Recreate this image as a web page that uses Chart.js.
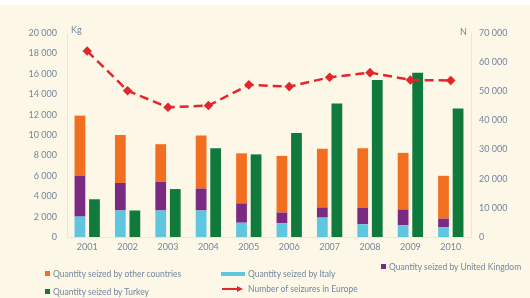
<!DOCTYPE html>
<html>
<head>
<meta charset="utf-8">
<script src="https://cdn.jsdelivr.net/npm/chart.js@4"></script>
<style>
  html, body { margin: 0; padding: 0; background: #fff; }
  #wrap { position: relative; width: 530px; height: 298px; overflow: hidden; }
  #bg { position: absolute; left: 0; top: 5px; width: 530px; height: 293px; background: #fcf7e7; }
  canvas { position: absolute; left: 0; top: 0; }
  .t { position: absolute; font-family: Lato, sans-serif; font-size: 8.5px; color: #74879e; white-space: nowrap; line-height: 10px; }
  .sq { position: absolute; width: 5px; height: 5px; }
</style>
</head>
<body>
<div id="wrap">
  <div id="bg"></div>
  <canvas id="chart" width="530" height="298"></canvas>
  <span class="t" style="left:71px;top:25px;font-size:9px;">Kg</span>
  <span class="t" style="left:460px;top:27px;font-size:9px;">N</span>

  <div class="sq" style="left:45px;top:271px;background:#f26f21;"></div>
  <span class="t" style="left:53px;top:269px;">Quantity seized by other countries</span>
  <div class="sq" style="left:45px;top:289px;background:#107a3d;"></div>
  <span class="t" style="left:53px;top:287px;">Quantity seized by Turkey</span>

  <div class="sq" style="left:221px;top:272px;width:24px;height:4px;background:#5ec7df;"></div>
  <span class="t" style="left:248px;top:269px;">Quantity seized by Italy</span>
  <div class="sq" style="left:222px;top:288px;width:16px;height:2px;background:#e3262b;"></div>
  <div class="sq" style="left:237px;top:286px;width:0;height:0;border-left:6px solid #e3262b;border-top:3px solid transparent;border-bottom:3px solid transparent;background:none;"></div>
  <span class="t" style="left:248px;top:284px;">Number of seizures in Europe</span>

  <div class="sq" style="left:381px;top:264px;background:#7b2a82;"></div>
  <span class="t" style="left:389px;top:262px;">Quantity seized by United Kingdom</span>
</div>
<script>
// Heroin seizures in Europe, 2001-2010
var years = ['2001','2002','2003','2004','2005','2006','2007','2008','2009','2010'];
// kg
var italy  = [2000, 2600, 2600, 2600, 1400, 1350, 1900, 1250, 1150, 950];
var uk     = [4000, 2700, 2800, 2150, 1900, 1050, 1000, 1600, 1550, 850];
var others = [5900, 4700, 3700, 5200, 4900, 5550, 5750, 5850, 5550, 4200];
var turkey = [3700, 2600, 4700, 8700, 8100, 10200, 13100, 15400, 16100, 12600];
// number of seizures
var seizures = [63800, 50200, 44500, 45100, 52200, 51600, 54800, 56400, 53900, 53700];

var kgTicks = [0, 2000, 4000, 6000, 8000, 10000, 12000, 14000, 16000, 18000, 20000];
var nTicks = [0, 10000, 20000, 30000, 40000, 50000, 60000, 70000];

function fmt(v) {
  return String(v).replace(/\B(?=(\d{3})+(?!\d))/g, ' ');
}

var tickColor = '#74879e';
var ctx = document.getElementById('chart');
var chart = new Chart(ctx, {
  type: 'bar',
  data: {
    labels: years,
    datasets: [
      { type: 'line', label: 'Number of seizures in Europe', data: seizures, yAxisID: 'yN',
        borderColor: '#e3262b', backgroundColor: '#e3262b', borderWidth: 2.5, borderDash: [9, 5],
        pointStyle: 'rectRot', pointRadius: 3, tension: 0, order: 0 },
      { label: 'Quantity seized by Italy', data: italy, backgroundColor: '#5ec7df', stack: 'eu', yAxisID: 'yKg', order: 1 },
      { label: 'Quantity seized by United Kingdom', data: uk, backgroundColor: '#7b2a82', stack: 'eu', yAxisID: 'yKg', order: 1 },
      { label: 'Quantity seized by other countries', data: others, backgroundColor: '#f26f21', stack: 'eu', yAxisID: 'yKg', order: 1 },
      { label: 'Quantity seized by Turkey', data: turkey, backgroundColor: '#107a3d', stack: 'tr', yAxisID: 'yKg', order: 1 }
    ]
  },
  options: {
    responsive: false,
    animation: false,
    categoryPercentage: 0.72,
    barPercentage: 0.74,
    layout: { padding: { top: 33, bottom: 43, left: 0, right: 0 } },
    plugins: { legend: { display: false }, tooltip: { enabled: false } },
    scales: {
      x: {
        grid: { display: false, drawTicks: false },
        border: { color: '#ece6d6' },
        ticks: { color: tickColor, font: { family: 'Lato', size: 9 }, padding: 5 },
        afterFit: function (s) { s.height = 18; }
      },
      yKg: {
        position: 'left', min: 0, max: 20000,
        afterBuildTicks: function (s) { s.ticks = kgTicks.map(function (v) { return { value: v }; }); },
        grid: { display: false, drawTicks: false },
        border: { color: '#ece6d6' },
        ticks: { color: tickColor, font: { family: 'Lato', size: 9 }, padding: 10, callback: function (v) { return fmt(v); } },
        afterFit: function (s) { s.width = 67; }
      },
      yN: {
        position: 'right', min: 0, max: 70000,
        afterBuildTicks: function (s) { s.ticks = nTicks.map(function (v) { return { value: v }; }); },
        grid: { display: false, drawTicks: false },
        border: { color: '#ece6d6' },
        ticks: { color: tickColor, font: { family: 'Lato', size: 9 }, padding: 8, callback: function (v) { return fmt(v); } },
        afterFit: function (s) { s.width = 59; }
      }
    }
  }
});
</script>
</body>
</html>
